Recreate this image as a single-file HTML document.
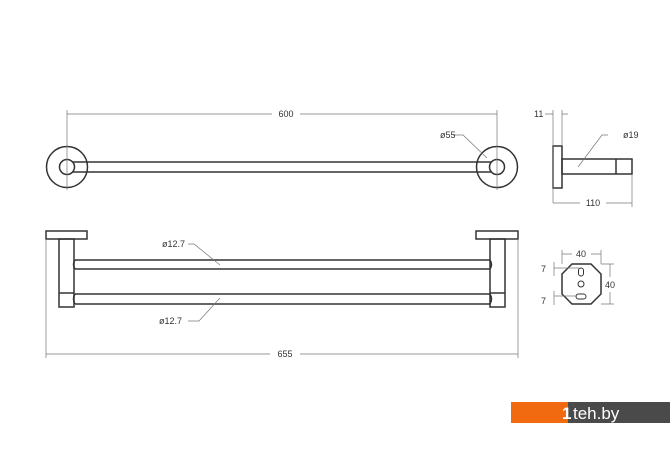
<!DOCTYPE html>
<html><head><meta charset="utf-8"><style>
html,body{margin:0;padding:0;background:#fff;}
svg{display:block;}
text{font-family:"Liberation Sans",sans-serif;fill:#333;}
</style></head><body>
<svg width="670" height="471" viewBox="0 0 670 471" xmlns="http://www.w3.org/2000/svg">
<g fill="none" stroke="#333" stroke-width="1.5">
  <!-- top view -->
  <circle cx="67" cy="167" r="20.5"/>
  <circle cx="67" cy="167" r="7.5"/>
  <circle cx="497" cy="167" r="20.5"/>
  <circle cx="497" cy="167" r="7.5"/>
  <path d="M73 162 H491 M73 172 H491"/>
  <!-- front view -->
  <rect x="46" y="231" width="41" height="8"/>
  <rect x="59" y="239" width="15" height="68"/>
  <path d="M59 293 H74"/>
  <rect x="476" y="231" width="42" height="8"/>
  <rect x="490" y="239" width="15" height="68"/>
  <path d="M490 293 H505"/>
  <path d="M75 260 H490 M75 269 H490 M75 294 H490 M75 304 H490"/>
  <path d="M75 260 Q72 264.5 75 269 M490 260 Q493 264.5 490 269 M75 294 Q72 299 75 304 M490 294 Q493 299 490 304"/>
  <!-- side view -->
  <rect x="553" y="146" width="9" height="42"/>
  <rect x="562" y="159" width="70" height="15"/>
  <path d="M616 159 V174"/>
  <!-- octagon -->
  <polygon points="572,264 591,264 601,274 601,294 591,304 572,304 562,294 562,274"/>
  <rect x="578.5" y="268" width="5" height="8" rx="2.5" stroke-width="1"/>
  <circle cx="581" cy="284" r="3" stroke-width="1"/>
  <rect x="576" y="294" width="10" height="5" rx="2.5" stroke-width="1"/>
</g>
<g fill="none" stroke="#777" stroke-width="0.7">
  <path d="M67 110 V190 M497 110 V190"/>
  <path d="M67 114 H272 M300 114 H497"/>
  <path d="M46 239 V358 M518 239 V358"/>
  <path d="M46 354 H270 M300 354 H518"/>
  <path d="M453 135 H463 L487 158"/>
  <path d="M188 244 H194 L220 265"/>
  <path d="M188 321 H199 L220 298"/>
  <path d="M553 110 V203 M562 110 V146 M632 175 V207"/>
  <path d="M545 114 H553 M562 114 H568"/>
  <path d="M553 203 H580 M606 203 H632"/>
  <path d="M608 135 H602 L578 167"/>
  <path d="M562 250 V264 M601 250 V264 M562 254 H572 M591 254 H601"/>
  <path d="M601 264 H614 M601 304 H614 M610 264 V277 M610 292 V304"/>
  <path d="M554 262 V276 M554 291 V305 M554 268 H579 M554 296 H577"/>
</g>
<g font-size="9">
  <text x="286" y="117" text-anchor="middle">600</text>
  <text x="285" y="357" text-anchor="middle">655</text>
  <text x="440" y="138">ø55</text>
  <text x="162" y="247">ø12.7</text>
  <text x="159" y="324">ø12.7</text>
  <text x="534" y="117">11</text>
  <text x="623" y="138">ø19</text>
  <text x="593" y="206" text-anchor="middle">110</text>
  <text x="581" y="257" text-anchor="middle">40</text>
  <text x="605" y="288">40</text>
  <text x="541" y="272">7</text>
  <text x="541" y="304">7</text>
</g>
<rect x="511" y="402" width="57" height="21" fill="#f26a10"/>
<rect x="568" y="402" width="102" height="21" fill="#4a4a4a"/>
<text x="562" y="419" font-size="17" font-weight="bold" style="fill:#fff">1</text>
<text x="573" y="419" font-size="17" style="fill:#fff">teh.by</text>
</svg>
</body></html>
